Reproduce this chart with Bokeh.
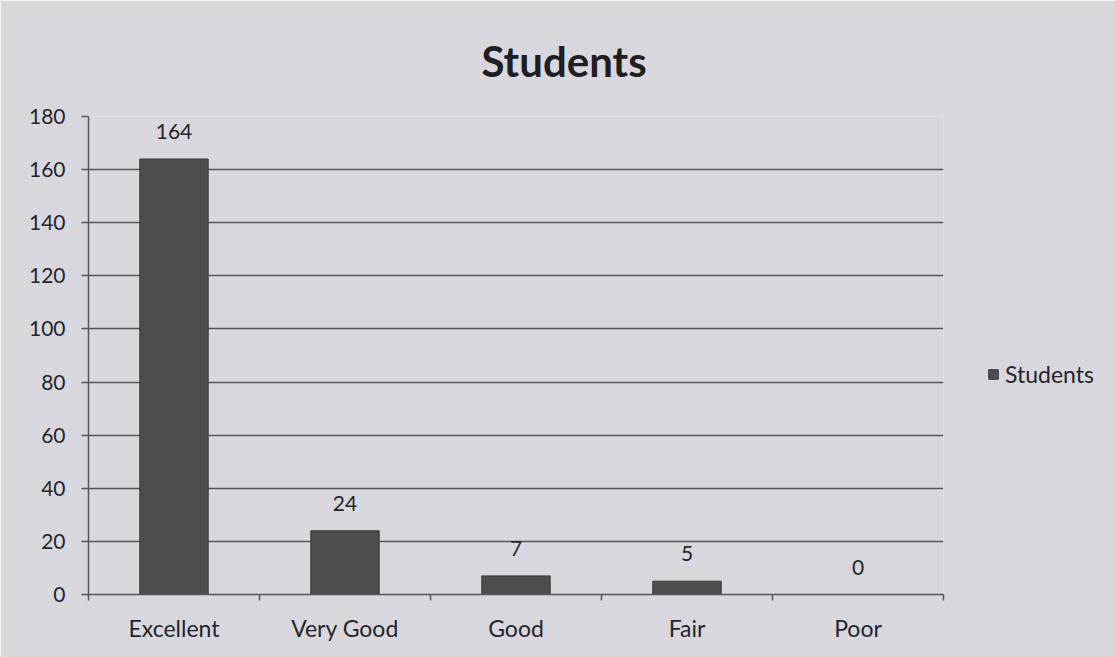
from bokeh.plotting import figure
from bokeh.models import ColumnDataSource, FixedTicker, LabelSet, Legend, LegendItem, Range1d, Title
from bokeh.core.properties import value
from bokeh.embed import file_html
from bokeh.resources import INLINE
import numpy as np

categories = ["Excellent", "Very Good", "Good", "Fair", "Poor"]
students = [164, 24, 7, 5, 0]
y_ticks = [0, 20, 40, 60, 80, 100, 120, 140, 160, 180]

BG = "#d7d7dd"
INK = "#26262c"
LINE = "#55555b"
BAR = "#4c4c51"
FONT = "Lato"

xs = (np.arange(len(categories)) + 0.5).tolist()
src = ColumnDataSource(dict(x=xs, y=students, cat=categories,
                            lab=[str(v) for v in students]))

p = figure(frame_width=855, frame_height=478,
           min_border_left=88, min_border_right=172,
           min_border_top=116, min_border_bottom=63,
           x_range=Range1d(0, len(categories)), y_range=Range1d(0, 180),
           output_backend="svg", toolbar_location=None, tools="")
p.background_fill_color = BG
p.border_fill_color = BG
p.outline_line_color = None

r = p.vbar(x="x", top="y", width=0.4, source=src,
           fill_color=BAR, line_color="#3a3a3e", line_width=1)

# title
p.title = Title(text="Students", align="left", offset=393, standoff=61,
                text_font=FONT, text_font_size="42px", text_font_style="bold",
                text_color="#1e1e24")

# y axis
ya = p.yaxis[0]
ya.ticker = FixedTicker(ticks=y_ticks)
ya.axis_line_color = LINE
ya.axis_line_width = 1.5
ya.major_tick_line_color = LINE
ya.major_tick_line_width = 1.5
ya.major_tick_out = 7
ya.major_tick_in = 0
ya.minor_tick_line_color = None
ya.major_label_standoff = 16
ya.major_label_text_font = FONT
ya.major_label_text_font_size = "21px"
ya.major_label_text_color = INK

# x axis
xa = p.xaxis[0]
xa.ticker = FixedTicker(ticks=xs, minor_ticks=list(range(len(categories) + 1)))
xa.major_label_overrides = {x: c for x, c in zip(xs, categories)}
xa.axis_line_color = LINE
xa.axis_line_width = 1.5
xa.major_tick_line_color = None
xa.major_tick_out = 0
xa.major_tick_in = 0
xa.minor_tick_line_color = LINE
xa.minor_tick_line_width = 1.5
xa.minor_tick_out = 6
xa.minor_tick_in = 0
xa.major_label_standoff = 13
xa.major_label_text_font = FONT
xa.major_label_text_font_size = "23px"
xa.major_label_text_color = INK

# grid
p.xgrid.grid_line_color = None
p.ygrid.ticker = FixedTicker(ticks=y_ticks)
p.ygrid.grid_line_color = LINE
p.ygrid.grid_line_width = 1.5

# data labels
labels = LabelSet(x="x", y="y", text="lab", source=src, y_offset=20,
                  text_align="center", text_baseline="bottom",
                  text_font=value(FONT), text_font_size=value("21px"),
                  text_color=INK)
p.add_layout(labels)

# legend
legend = Legend(items=[LegendItem(label="Students", renderers=[r])],
                location=(44, 206), glyph_width=12, glyph_height=12,
                label_standoff=6, padding=0, margin=0, spacing=0,
                border_line_color=None, background_fill_alpha=0,
                label_text_font=FONT, label_text_font_size="23px",
                label_text_color=INK)
p.add_layout(legend, "right")

open("out.html", "w").write(file_html(p, INLINE))
